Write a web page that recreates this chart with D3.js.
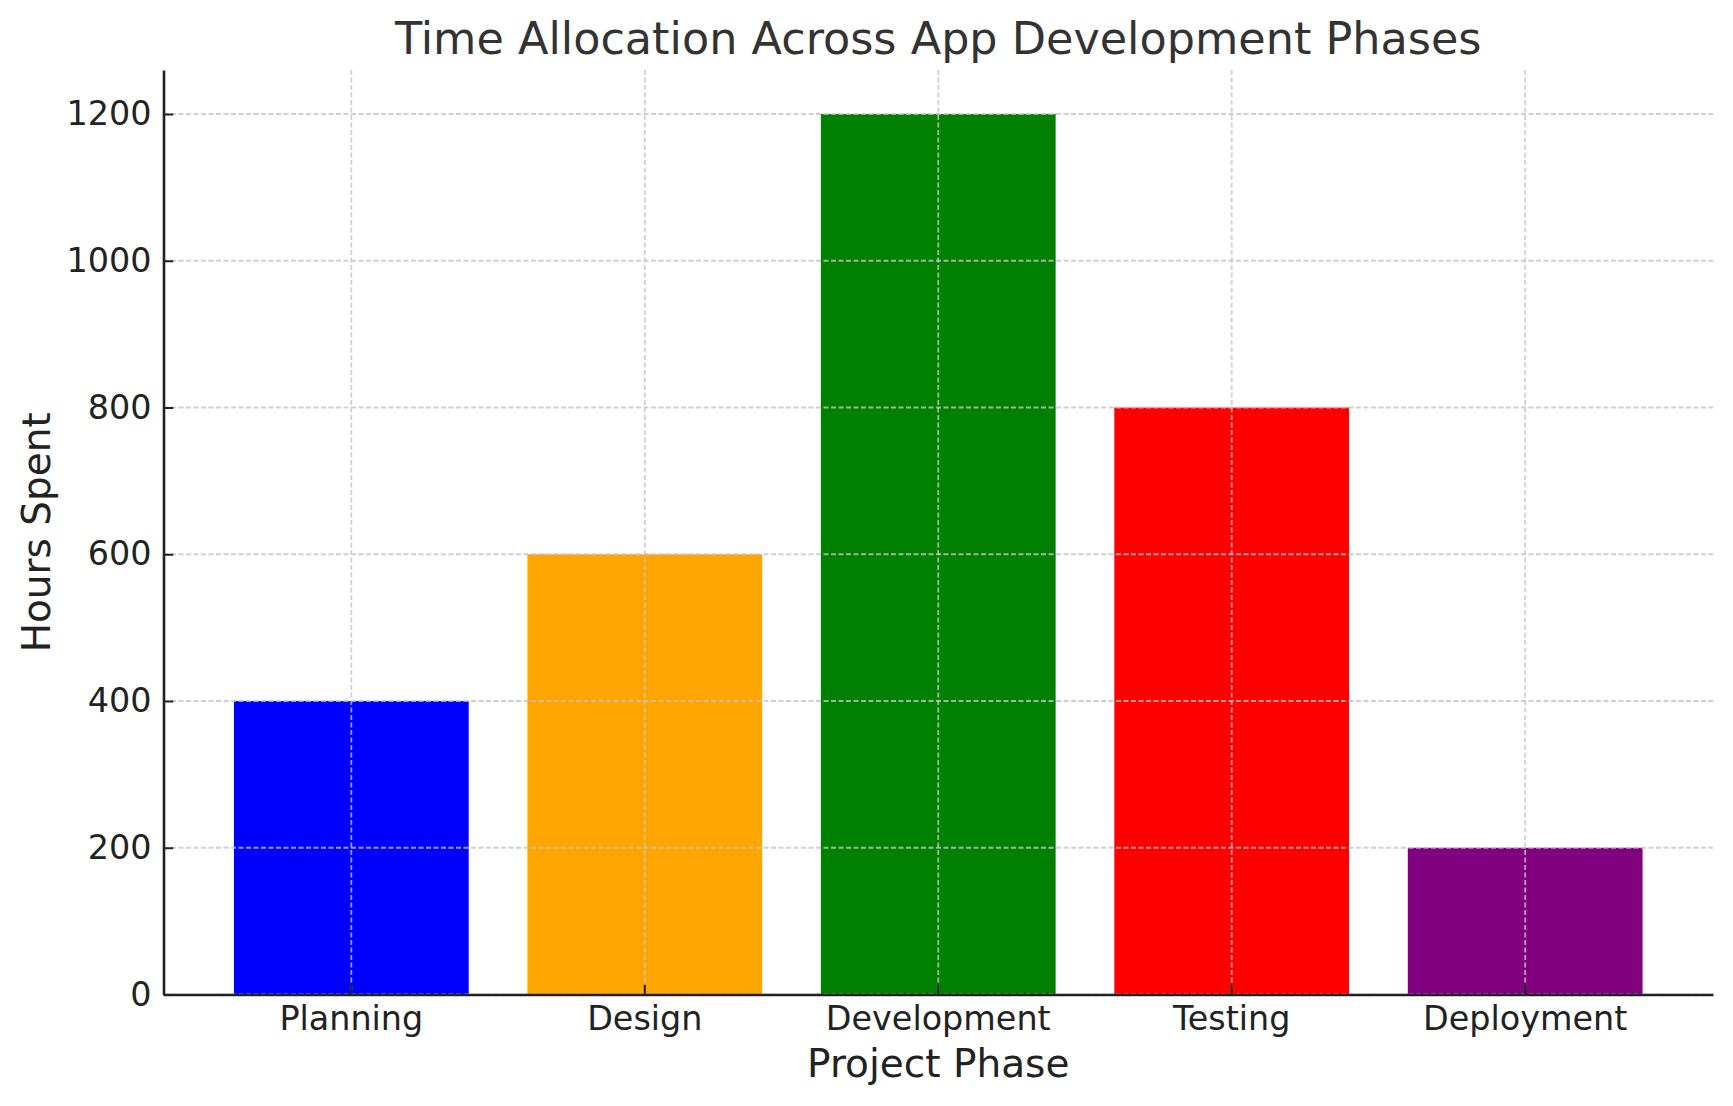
<!DOCTYPE html>
<html>
<head>
<meta charset="utf-8">
<script src="https://cdn.jsdelivr.net/npm/d3@7"></script>
<style>
  html, body { margin: 0; padding: 0; background: #fff; }
  svg { display: block; font-family: "DejaVu Sans", sans-serif; }
</style>
</head>
<body>
<div id="chart"></div>
<script>
const phases = ['Planning', 'Design', 'Development', 'Testing', 'Deployment'];
const hours = [400, 600, 1200, 800, 200];
const barColors = ['blue', 'orange', 'green', 'red', 'purple'];
const yTicks = [0, 200, 400, 600, 800, 1000, 1200];

const rows = phases.map((p, i) => ({phase: p, hours: hours[i], color: barColors[i]}));

const width = 1733;
const height = 1106;
const margin = {top: 70, left: 163.5, right: 20, bottom: 111.5};
const plotBottom = height - margin.bottom;
const plotRight = width - margin.right;

const x = d3.scaleBand().domain(phases)
  .range([margin.left, plotRight])
  .paddingInner(0.2).paddingOuter(0.24);
const y = d3.scaleLinear().domain([0, 1260]).range([plotBottom, margin.top]);

const svg = d3.select('#chart').append('svg')
  .attr('width', width).attr('height', height);

// bars
svg.selectAll('.bar').data(rows)
  .enter().append('rect')
  .attr('class', 'bar')
  .attr('x', d => x(d.phase))
  .attr('y', d => y(d.hours))
  .attr('width', x.bandwidth())
  .attr('height', d => y(0) - y(d.hours))
  .attr('fill', d => d.color);

// dashed grid sits on top of the bars
const grid = svg.append('g')
  .attr('stroke', '#c4c4c4').attr('stroke-opacity', 0.8)
  .attr('stroke-width', 1.8).attr('stroke-dasharray', '5,2.5');
grid.selectAll('.hgrid').data(yTicks).enter().append('line')
  .attr('x1', margin.left).attr('x2', plotRight)
  .attr('y1', d => y(d)).attr('y2', d => y(d));
grid.selectAll('.vgrid').data(phases).enter().append('line')
  .attr('x1', d => x(d) + x.bandwidth() / 2).attr('x2', d => x(d) + x.bandwidth() / 2)
  .attr('y1', margin.top).attr('y2', plotBottom);

// axes, ticks pointing inward
const yAxis = svg.append('g')
  .attr('transform', `translate(${margin.left},0)`)
  .call(d3.axisLeft(y).tickValues(yTicks).tickFormat(d3.format('d'))
    .tickSizeInner(-9.7).tickSizeOuter(0).tickPadding(12));
const xAxis = svg.append('g')
  .attr('transform', `translate(0,${plotBottom})`)
  .call(d3.axisBottom(x).tickSizeInner(-9.7).tickSizeOuter(0).tickPadding(12));

[xAxis, yAxis].forEach(g => {
  g.select('.domain').attr('stroke', '#222').attr('stroke-width', 2.6);
  g.selectAll('.tick line').attr('stroke', '#222').attr('stroke-width', 2);
  g.selectAll('.tick text')
    .attr('fill', '#222')
    .style('font-family', '"DejaVu Sans", sans-serif')
    .style('font-size', '33.4px');
});

// title and axis labels
svg.append('text')
  .attr('x', (margin.left + plotRight) / 2).attr('y', 54)
  .attr('text-anchor', 'middle')
  .attr('fill', '#333')
  .style('font-size', '44.5px')
  .text('Time Allocation Across App Development Phases');

svg.append('text')
  .attr('x', (margin.left + plotRight) / 2).attr('y', 1077)
  .attr('text-anchor', 'middle')
  .attr('fill', '#222')
  .style('font-size', '39px')
  .text('Project Phase');

svg.append('text')
  .attr('transform', `translate(49.5,${(margin.top + plotBottom) / 2}) rotate(-90)`)
  .attr('text-anchor', 'middle')
  .attr('fill', '#222')
  .style('font-size', '39px')
  .text('Hours Spent');
</script>
</body>
</html>
